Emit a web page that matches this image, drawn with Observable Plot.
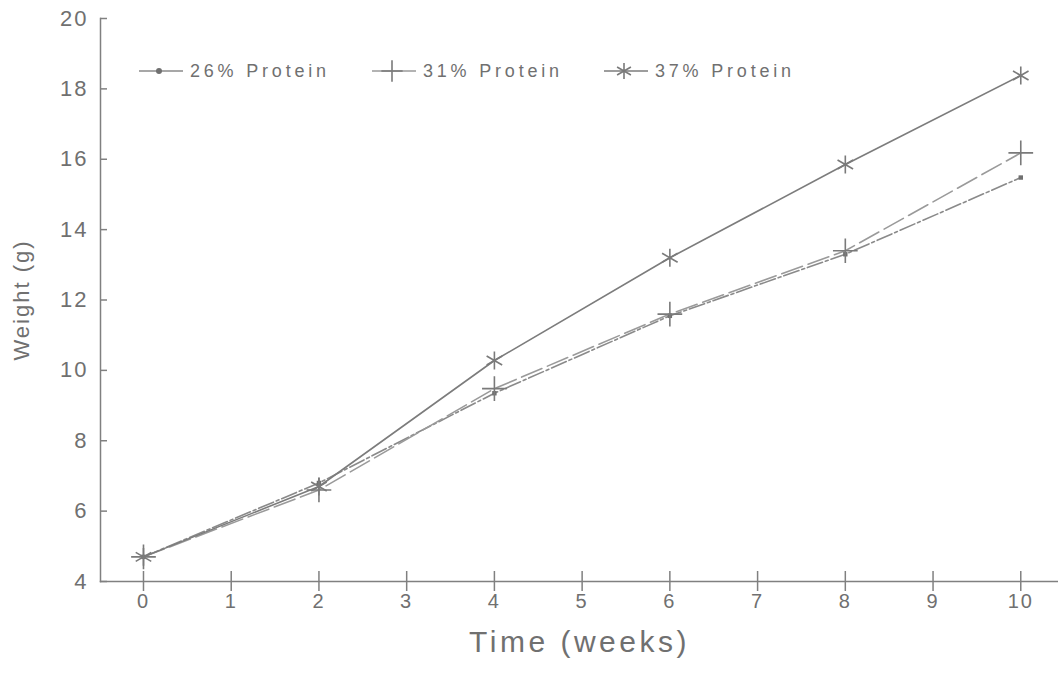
<!DOCTYPE html>
<html>
<head>
<meta charset="utf-8">
<script src="https://cdn.jsdelivr.net/npm/d3@7"></script>
<script src="https://cdn.jsdelivr.net/npm/@observablehq/plot@0.6"></script>
<style>
  html, body { margin: 0; padding: 0; background: #fff; }
  #wrap { position: relative; width: 1058px; height: 676px; font-family: "Liberation Sans", Arial, sans-serif; }
  #legend { position: absolute; left: 0; top: 0; width: 1058px; height: 1px; }
  .item { position: absolute; top: 58px; display: flex; align-items: center; color: #707070; font-size: 18px; letter-spacing: 3.8px; }
  .item svg { margin-right: 6px; }
</style>
</head>
<body>
<div id="wrap"><div id="legend"></div></div>
<script>
const weeks = [0, 2, 4, 6, 8, 10];
const protein26 = [4.7, 6.8, 9.35, 11.55, 13.3, 15.48];
const protein31 = [4.7, 6.6, 9.48, 11.6, 13.4, 16.18];
const protein37 = [4.7, 6.7, 10.28, 13.2, 15.85, 18.38];
const seriesNames = ["26% Protein", "31% Protein", "37% Protein"];
const xTicks = [0, 1, 2, 3, 4, 5, 6, 7, 8, 9, 10];
const yTicks = [4, 6, 8, 10, 12, 14, 16, 18, 20];

const gray = "#808080";
const styles = {
  "26% Protein": {dash: "16,3,3,3", symbol: "square", r: 2.5, fill: "#707070", stroke: "none", lineColor: "#8a8a8a"},
  "31% Protein": {dash: "22,6", symbol: "plus", r: 8, fill: "none", stroke: "#7a7a7a", lineColor: "#9a9a9a"},
  "37% Protein": {dash: null, symbol: "asterisk", r: 8.5, fill: "none", stroke: "#7a7a7a", lineColor: "#7c7c7c"}
};

const table = [];
[protein26, protein31, protein37].forEach((vals, i) => {
  weeks.forEach((w, j) => table.push({series: seriesNames[i], week: w, weight: vals[j]}));
});

const marks = [
  Plot.frame({anchor: "left", stroke: gray, strokeWidth: 1.5}),
  Plot.frame({anchor: "bottom", stroke: gray, strokeWidth: 1.5}),
  Plot.axisY(yTicks, {tickSize: 7, dx: 7, tickFormat: () => "", label: null, stroke: gray, strokeWidth: 1.5}),
  Plot.axisY(yTicks, {tickSize: 0, tickPadding: 12, fontSize: 22, label: null, fill: "#707070"}),
  Plot.axisY([], {tickSize: 0, tickFormat: () => "", label: "Weight (g)", labelAnchor: "center", labelOffset: 87, labelArrow: "none", fontSize: 22, fill: "#707070"}),
  Plot.axisX(xTicks, {tickSize: 20, dy: -10, tickFormat: () => "", label: null, stroke: gray, strokeWidth: 1.5}),
  Plot.axisX(xTicks, {tickSize: 0, tickPadding: 12, fontSize: 20, label: null, fill: "#707070"}),
  Plot.axisX([], {tickSize: 0, tickFormat: () => "", label: "Time (weeks)", labelAnchor: "center", labelOffset: 70, labelArrow: "none", fontSize: 30, fill: "#707070"})
];

for (const name of seriesNames) {
  const s = styles[name];
  const data = table.filter(d => d.series === name);
  marks.push(Plot.line(data, {x: "week", y: "weight", stroke: s.lineColor, strokeWidth: 1.6, strokeDasharray: s.dash}));
}
for (const name of seriesNames) {
  const s = styles[name];
  const data = table.filter(d => d.series === name);
  marks.push(Plot.dot(data, {x: "week", y: "weight", symbol: s.symbol, r: s.r, fill: s.fill, stroke: s.stroke, strokeWidth: 1.6}));
}

const chart = Plot.plot({
  width: 1058,
  height: 676,
  marginLeft: 100,
  marginRight: 0,
  marginTop: 18,
  marginBottom: 95,
  x: {domain: [-0.49, 10.43]},
  y: {domain: [4, 20]},
  style: {fontFamily: "'Liberation Sans', Arial, sans-serif", background: "#fff", color: "#707070", letterSpacing: "2px"},
  marks
});
// wider letter spacing for the big x label
d3.select(chart).selectAll("text").filter(function() { return this.textContent === "Time (weeks)"; })
  .style("letter-spacing", "3.5px");
document.getElementById("wrap").prepend(chart);

// Legend (HTML overlay)
const legend = document.getElementById("legend");
const legendLeft = [138, 371, 603];
seriesNames.forEach((name, i) => {
  const s = styles[name];
  const item = document.createElement("div");
  item.className = "item";
  item.style.left = legendLeft[i] + "px";
  const w = 46, h = 26;
  const svg = d3.create("svg").attr("width", w).attr("height", h);
  svg.append("line").attr("x1", 1).attr("x2", w - 1).attr("y1", h / 2).attr("y2", h / 2)
    .attr("stroke", s.lineColor).attr("stroke-width", 1.6);
  const symType = {square: d3.symbolCircle, plus: d3.symbolPlus, asterisk: d3.symbolAsterisk}[s.symbol];
  const size = s.symbol === "square" ? 28 : s.symbol === "plus" ? 150 : 180;
  svg.append("path").attr("d", d3.symbol(symType, size)())
    .attr("transform", `translate(${w / 2 - 2},${h / 2})`)
    .attr("fill", s.fill).attr("stroke", s.stroke).attr("stroke-width", 1.6);
  item.appendChild(svg.node());
  const span = document.createElement("span");
  span.textContent = name;
  item.appendChild(span);
  legend.appendChild(item);
});
</script>
</body>
</html>
